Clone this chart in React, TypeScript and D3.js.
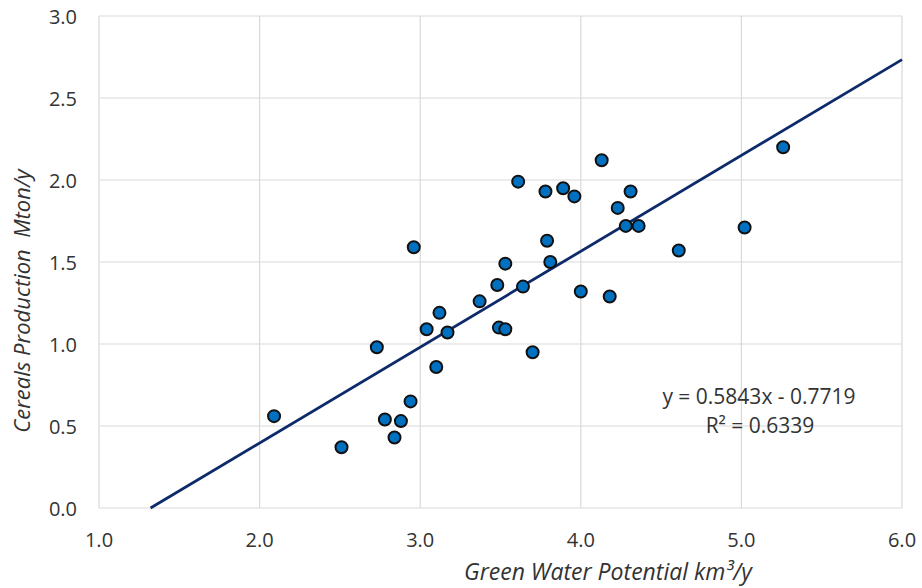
import { useEffect, useRef } from 'react';
import * as d3 from 'd3';

// Green water potential (km3/y) vs cereals production (Mton/y)
const greenWater = [
  2.09, 2.51, 2.73, 2.78, 2.84, 2.88, 2.94, 2.96, 3.04, 3.10, 3.12, 3.17,
  3.37, 3.48, 3.49, 3.53, 3.53, 3.61, 3.64, 3.70, 3.78, 3.79, 3.81, 3.89,
  3.96, 4.00, 4.13, 4.18, 4.23, 4.28, 4.31, 4.36, 4.61, 5.02, 5.26,
];
const cereals = [
  0.56, 0.37, 0.98, 0.54, 0.43, 0.53, 0.65, 1.59, 1.09, 0.86, 1.19, 1.07,
  1.26, 1.36, 1.10, 1.09, 1.49, 1.99, 1.35, 0.95, 1.93, 1.63, 1.50, 1.95,
  1.90, 1.32, 2.12, 1.29, 1.83, 1.72, 1.93, 1.72, 1.57, 1.71, 2.20,
];
const xTicks = [1, 2, 3, 4, 5, 6];
const yTicks = [0, 0.5, 1, 1.5, 2, 2.5, 3];
const slope = 0.5843;
const intercept = -0.7719;
const r2 = 0.6339;

function App() {
  const svgRef = useRef<SVGSVGElement>(null);

  useEffect(() => {
    const width = 922;
    const height = 588;
    const left = 99;
    const right = 902;
    const top = 16;
    const bottom = 508;
    const font = '"Open Sans", sans-serif';
    const textColor = '#333';

    const svg = d3.select(svgRef.current);
    svg.selectAll('*').remove();
    svg.attr('width', width).attr('height', height);

    const x = d3.scaleLinear().domain([1, 6]).range([left, right]);
    const y = d3.scaleLinear().domain([0, 3]).range([bottom, top]);

    // gridlines
    svg
      .append('g')
      .selectAll('line')
      .data(xTicks)
      .enter()
      .append('line')
      .attr('x1', (d) => x(d))
      .attr('x2', (d) => x(d))
      .attr('y1', top)
      .attr('y2', bottom)
      .attr('stroke', '#d9d9d9')
      .attr('stroke-width', 1.2);

    svg
      .append('g')
      .selectAll('line')
      .data(yTicks)
      .enter()
      .append('line')
      .attr('x1', left)
      .attr('x2', right)
      .attr('y1', (d) => y(d))
      .attr('y2', (d) => y(d))
      .attr('stroke', '#d9d9d9')
      .attr('stroke-width', 1.2);

    // tick labels
    svg
      .append('g')
      .selectAll('text')
      .data(xTicks)
      .enter()
      .append('text')
      .attr('x', (d) => x(d))
      .attr('y', bottom + 39)
      .attr('text-anchor', 'middle')
      .attr('font-family', font)
      .attr('font-size', '20px')
      .attr('fill', textColor)
      .text((d) => d.toFixed(1));

    svg
      .append('g')
      .selectAll('text')
      .data(yTicks)
      .enter()
      .append('text')
      .attr('x', left - 22)
      .attr('y', (d) => y(d) + 8)
      .attr('text-anchor', 'end')
      .attr('font-family', font)
      .attr('font-size', '20px')
      .attr('fill', textColor)
      .text((d) => d.toFixed(1));

    // trendline from y=0 to right edge
    const x0 = -intercept / slope;
    svg
      .append('line')
      .attr('x1', x(x0))
      .attr('y1', y(0))
      .attr('x2', x(6))
      .attr('y2', y(slope * 6 + intercept))
      .attr('stroke', '#0d2a6a')
      .attr('stroke-width', 2.8);

    // points
    svg
      .append('g')
      .selectAll('circle')
      .data(greenWater.map((g, i) => ({ g, c: cereals[i] })))
      .enter()
      .append('circle')
      .attr('cx', (d) => x(d.g))
      .attr('cy', (d) => y(d.c))
      .attr('r', 6)
      .attr('fill', '#0070c0')
      .attr('stroke', '#111')
      .attr('stroke-width', 2);

    // equation
    const eq = svg
      .append('g')
      .attr('font-family', font)
      .attr('font-size', '21px')
      .attr('fill', textColor)
      .attr('text-anchor', 'middle');
    eq.append('text')
      .attr('x', 759)
      .attr('y', 404)
      .text(`y = ${slope}x - ${Math.abs(intercept)}`);
    eq.append('text')
      .attr('x', 760)
      .attr('y', 433)
      .text(`R² = ${r2}`);

    // axis titles
    svg
      .append('text')
      .attr('x', 608)
      .attr('y', 580)
      .attr('text-anchor', 'middle')
      .attr('font-family', font)
      .attr('font-size', '23px')
      .attr('font-style', 'italic')
      .attr('fill', textColor)
      .text('Green Water Potential km³/y');

    svg
      .append('text')
      .attr('transform', `translate(30, 301) rotate(-90)`)
      .attr('text-anchor', 'middle')
      .attr('font-family', font)
      .attr('font-size', '22px')
      .attr('font-style', 'italic')
      .attr('fill', textColor)
      .attr('xml:space', 'preserve')
      .text('Cereals Production  Mton/y');
  }, []);

  return (
    <svg
      ref={svgRef}
      style={{ position: 'absolute', left: 0, top: 0, background: '#fff' }}
    ></svg>
  );
}

export default App;
